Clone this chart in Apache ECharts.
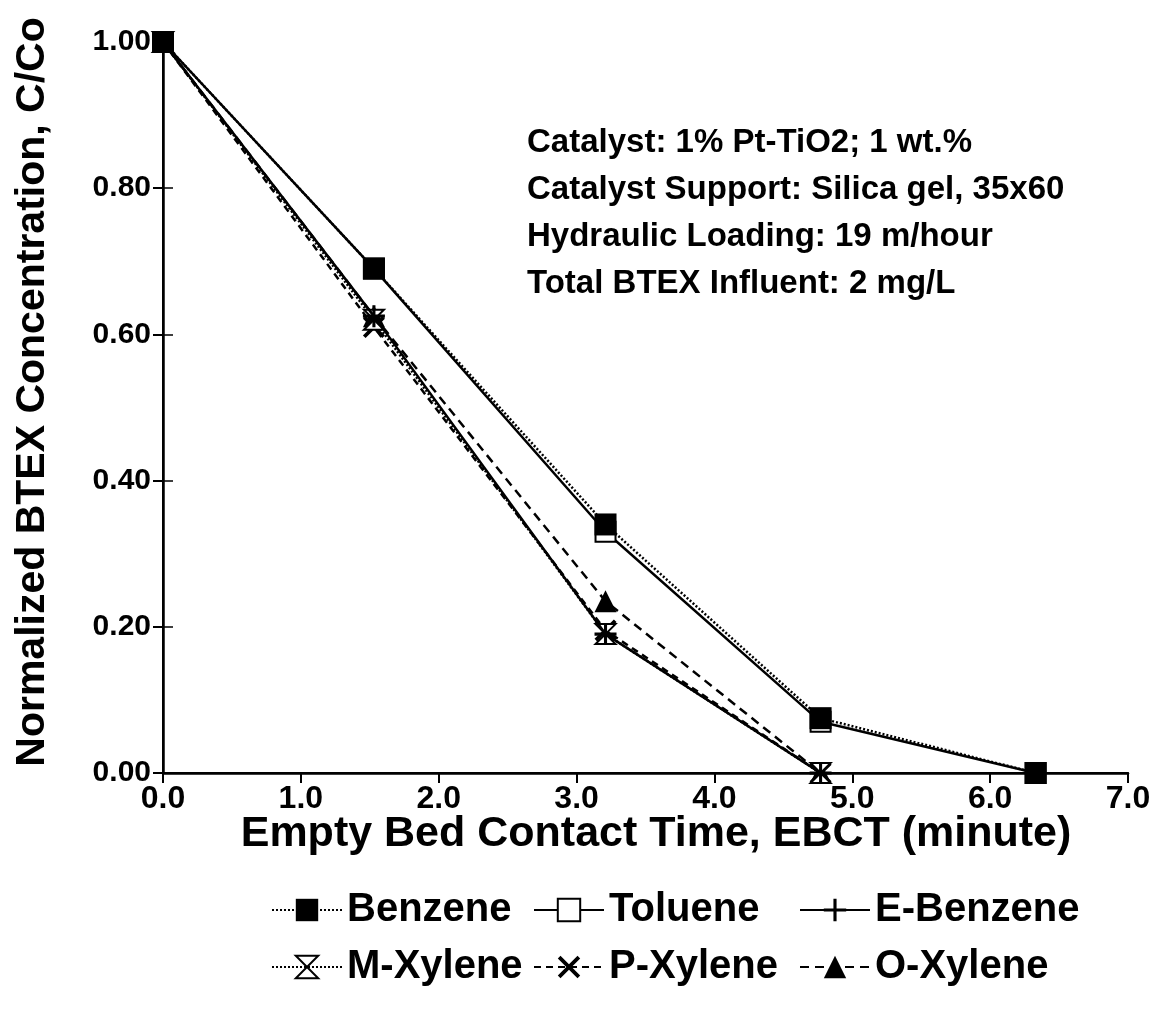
<!DOCTYPE html>
<html>
<head>
<meta charset="utf-8">
<script src="https://cdn.jsdelivr.net/npm/echarts@6/dist/echarts.min.js"></script>
<style>
html,body{margin:0;padding:0;background:#fff;}
#chart{width:1162px;height:1010px;}
</style>
</head>
<body>
<div id="chart"></div>
<script>
// ---- data ----
const ebct = [0, 1.53, 3.21, 4.77, 6.33];
const benzene  = [1.00, 0.69, 0.34, 0.075, 0.00];
const toluene  = [1.00, 0.69, 0.33, 0.07, 0.00];
const eBenzene = [1.00, 0.625, 0.19, 0.00];
const mXylene  = [1.00, 0.62, 0.19, 0.00];
const pXylene  = [1.00, 0.61, 0.195, 0.00];
const oXylene  = [1.00, 0.625, 0.235, 0.00];
const xTicks = [0, 1, 2, 3, 4, 5, 6, 7];
const xTitle = 'Empty Bed Contact Time, EBCT (minute)';
const yTitle = 'Normalized BTEX Concentration, C/Co';
const noteLines = [
  'Catalyst: 1% Pt-TiO2; 1 wt.%',
  'Catalyst Support: Silica gel, 35x60',
  'Hydraulic Loading: 19 m/hour',
  'Total BTEX Influent: 2 mg/L'
];

function pairs(vals) { return vals.map((v, i) => [ebct[i], v]); }

const chart = echarts.init(document.getElementById('chart'));
const NARROW = '"Liberation Sans Narrow", "Liberation Sans", Arial, sans-serif';
const SANS = '"Liberation Sans", Arial, sans-serif';

const hourglass = 'path://M0,0 L10,0 L0,10 L10,10 Z';
const xMark = 'path://M0,1.2 L1.2,0 L5,3.8 L8.8,0 L10,1.2 L6.2,5 L10,8.8 L8.8,10 L5,6.2 L1.2,10 L0,8.8 L3.8,5 Z';
const plusMark = 'path://M4.3,0 L5.7,0 L5.7,4.3 L10,4.3 L10,5.7 L5.7,5.7 L5.7,10 L4.3,10 L4.3,5.7 L0,5.7 L0,4.3 L4.3,4.3 Z';

function mk(name, data, lineType, symbol, size, fill, z) {
  return {
    name: name, type: 'line', data: pairs(data), clip: false,
    symbol: symbol, symbolSize: size, z: z,
    lineStyle: { color: '#000', width: 2.5, type: lineType },
    itemStyle: { color: fill, borderColor: '#000', borderWidth: fill === '#fff' ? 2 : 0 },
    emphasis: { disabled: true }
  };
}

const series = [
  mk('O-Xylene', oXylene, [9, 6], 'triangle', 22, '#000', 2),
  mk('P-Xylene', pXylene, [7, 5], xMark, 22, '#000', 3),
  mk('M-Xylene', mXylene, [2, 2], hourglass, 20, '#fff', 4),
  mk('E-Benzene', eBenzene, 'solid', plusMark, 22, '#000', 5),
  mk('Toluene', toluene, 'solid', 'rect', 20, '#fff', 6),
  mk('Benzene', benzene, [2, 2], 'rect', 22, '#000', 7)
];

const legendText = { fontSize: 40, fontWeight: 'bold', fontFamily: SANS, color: '#000', lineHeight: 40 };
function lg(items, left) {
  return { data: items, orient: 'vertical', left: left, top: 885, itemWidth: 70, itemHeight: 28,
           itemGap: 17, textStyle: legendText, selectedMode: false };
}

chart.setOption({
  animation: false,
  backgroundColor: '#fff',
  grid: { left: 163, right: 34, top: 42, bottom: 237 },
  xAxis: [{
    type: 'value', min: 0, max: 7, interval: 1,
    axisLine: { lineStyle: { color: '#000', width: 2.5 } },
    axisTick: { show: true, inside: false, length: 10, lineStyle: { color: '#000', width: 2 } },
    axisLabel: { fontSize: 32, fontWeight: 'bold', fontFamily: SANS, color: '#000', margin: 10,
                 formatter: v => xTicks.includes(v) ? v.toFixed(1) : '' },
    splitLine: { show: false }
  }, {
    type: 'value', min: 0, max: 7, position: 'top',
    axisLine: { show: true, lineStyle: { color: '#000', width: 2 } },
    axisTick: { show: false }, axisLabel: { show: false }, splitLine: { show: false }
  }],
  yAxis: [{
    type: 'value', min: 0, max: 1, interval: 0.2,
    axisLine: { show: true, lineStyle: { color: '#000', width: 2.5 } },
    axisTick: { show: true, inside: false, length: 10, lineStyle: { color: '#000', width: 2 } },
    axisLabel: { fontSize: 30, fontWeight: 'bold', fontFamily: SANS, color: '#000', margin: 12,
                 formatter: v => v.toFixed(2) },
    splitLine: { show: false }
  }, {
    type: 'value', min: 0, max: 1, interval: 0.2, position: 'right',
    axisLine: { show: true, lineStyle: { color: '#000', width: 2 } },
    axisTick: { show: true, inside: false, length: 10, lineStyle: { color: '#000', width: 1.5 } },
    axisLabel: { show: false }, splitLine: { show: false }
  }],
  legend: [
    lg(['Benzene', 'M-Xylene'], 266),
    lg(['Toluene', 'P-Xylene'], 528),
    lg(['E-Benzene', 'O-Xylene'], 794)
  ],
  graphic: [{
    type: 'text', left: 527, top: 119,
    style: { text: noteLines.join('\n'), fontSize: 33, fontWeight: 'bold', fontFamily: SANS,
             fill: '#000', lineHeight: 47 }
  }, {
    type: 'text', x: 656, y: 834,
    style: { text: xTitle, fontSize: 43, fontWeight: 'bold', fontFamily: NARROW, fill: '#000',
             align: 'center', verticalAlign: 'middle' }
  }, {
    type: 'text', x: 33, y: 392, rotation: Math.PI / 2,
    style: { text: yTitle, fontSize: 41, fontWeight: 'bold', fontFamily: NARROW, fill: '#000',
             align: 'center', verticalAlign: 'middle' }
  }],
  series: series
});
</script>
</body>
</html>
